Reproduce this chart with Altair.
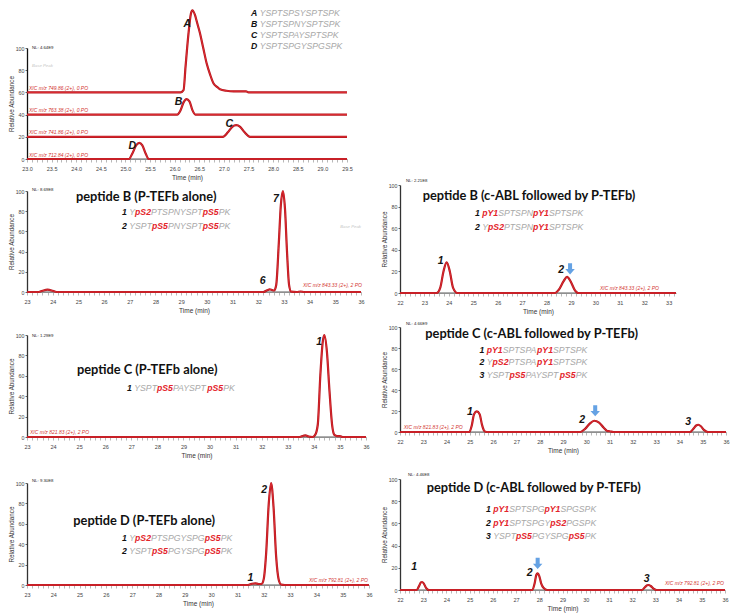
import re
import altair as alt
import pandas as pd

# ---------------- data ----------------
TOP_NAMES = ["A", "B", "C", "D"]
TOP_SEQS = ["YSPTSPSYSPTSPK", "YSPTSPNYSPTSPK", "YSPTSPAYSPTSPK", "YSPTSPGYSPGSPK"]
TOP_XIC = ["XIC m/z 749.86 (2+), 0 PO", "XIC m/z 763.38 (2+), 0 PO",
           "XIC m/z 741.86 (2+), 0 PO", "XIC m/z 712.84 (2+), 0 PO"]
TOP_BASE = [60, 40, 20, 0]
TOP_T = {
    "A": [23.0, 26.12, 26.18, 26.22, 26.28, 26.33, 26.36, 26.41, 26.46, 26.51, 26.58, 26.65,
          26.72, 26.79, 26.86, 26.92, 27.05, 27.2, 27.45, 27.5, 29.5],
    "B": [23.0, 26.05, 26.12, 26.18, 26.24, 26.3, 26.36, 26.42, 29.5],
    "C": [23.0, 26.98, 27.08, 27.17, 27.25, 27.33, 27.42, 27.53, 29.5],
    "D": [23.0, 25.07, 25.14, 25.22, 25.28, 25.34, 25.41, 25.47, 29.5],
}
TOP_V = {
    "A": [0, 0, 2, 23, 53, 71, 74, 70, 62, 54, 40, 26, 16, 8, 5, 2.8, 1.5, 1, 1, 0, 0],
    "B": [0, 0, 4, 11, 14, 12, 4, 0, 0],
    "C": [0, 0, 4, 9, 10.5, 9, 4, 0, 0],
    "D": [0, 0, 5, 12.5, 14.5, 12.5, 5, 0, 0],
}
TOP_SEGS = [(25.05, 25.5)]

PANELS = {
    "BL": dict(
        xdom=[23, 36], nl="NL: 8.69E8", xic="XIC m/z 843.33 (2+), 2 PO",
        title="peptide B (P-TEFb alone)",
        seqs=[("1", "Y[pS2]PTSPNYSPT[pS5]PK"), ("2", "YSPT[pS5]PNYSPT[pS5]PK")],
        t=[23.0, 23.45, 23.6, 23.8, 24.0, 24.15, 32.2, 32.35, 32.45, 32.55, 32.62, 32.7, 32.8,
           32.88, 32.96, 33.04, 33.12, 33.2, 33.28, 33.5, 33.65, 33.8, 36.0],
        v=[0, 0, 1.2, 2.3, 1.2, 0, 0, 1.8, 2.6, 1.8, 1.5, 7, 48, 86, 100, 83, 40, 7, 0.3, 0,
           0.5, 0, 0],
        peaks=[("6", 32.45), ("7", 32.96)], arrow=None,
        segs=[(23.5, 24.1), (32.25, 33.3)], basepeak=True),
    "BR": dict(
        xdom=[22, 33.3], nl="NL: 2.21E8", xic="XIC m/z 843.33 (2+), 2 PO",
        title="peptide B (c-ABL followed by P-TEFb)",
        seqs=[("1", "[pY1]SPTSPN[pY1]SPTSPK"), ("2", "Y[pS2]PTSPN[pY1]SPTSPK")],
        t=[22.0, 23.5, 23.65, 23.78, 23.91, 24.04, 24.17, 24.35, 28.35, 28.5, 28.7, 28.84,
           28.98, 29.15, 29.3, 33.3],
        v=[0, 0, 5, 20, 28.4, 20, 5, 0, 0, 3, 11, 15, 11, 3, 0, 0],
        peaks=[("1", 23.91), ("2", 28.84)], arrow=28.84,
        segs=[(23.5, 24.4), (28.35, 29.3)], basepeak=False),
    "CL": dict(
        xdom=[23, 36], nl="NL: 1.29E9", xic="XIC m/z 821.83 (2+), 2 PO",
        title="peptide C (P-TEFb alone)",
        seqs=[("1", "YSPT[pS5]PAYSPT[pS5]PK")],
        t=[23.0, 33.45, 33.6, 33.68, 33.8, 33.95, 34.05, 34.15, 34.25, 34.34, 34.4, 34.5, 34.6,
           34.7, 34.79, 34.9, 35.0, 35.1, 36.0],
        v=[0, 0, 1.2, 1.6, 0.5, 0, 2, 12, 61, 93, 100, 84, 45, 12, 2, 0.8, 0.8, 0, 0],
        peaks=[("1", 34.4)], arrow=None,
        segs=[(33.45, 33.95), (34.0, 35.1)], basepeak=False),
    "CR": dict(
        xdom=[22, 36], nl="NL: 4.66E9", xic="XIC m/z 821.83 (2+), 2 PO",
        title="peptide C (c-ABL followed by P-TEFb)",
        seqs=[("1", "[pY1]SPTSPA[pY1]SPTSPK"), ("2", "Y[pS2]PTSPA[pY1]SPTSPK"),
              ("3", "YSPT[pS5]PAYSPT[pS5]PK")],
        t=[22.0, 24.98, 25.08, 25.18, 25.3, 25.42, 25.52, 25.62, 25.72, 29.75, 29.95, 30.15,
           30.34, 30.55, 30.75, 30.9, 31.0, 31.17, 34.45, 34.6, 34.72, 34.81, 34.92, 35.05,
           35.22, 36.0],
        v=[0, 0, 6, 17, 19.6, 17, 7, 1, 0, 0, 3, 8, 10.7, 9, 4, 1, 0.7, 0, 0, 3, 6.2, 6.9, 5.5,
           2, 0, 0],
        peaks=[("1", 25.3), ("2", 30.34), ("3", 34.81)], arrow=30.34,
        segs=[(24.98, 25.72), (29.6, 31.2), (34.45, 35.22)], basepeak=False),
    "DL": dict(
        xdom=[23, 36], nl="NL: 9.30E8", xic="XIC m/z 792.81 (2+), 2 PO",
        title="peptide D (P-TEFb alone)",
        seqs=[("1", "Y[pS2]PTSPGYSPG[pS5]PK"), ("2", "YSPT[pS5]PGYSPG[pS5]PK")],
        t=[23.0, 31.4, 31.55, 31.68, 31.8, 31.92, 32.0, 32.09, 32.19, 32.28, 32.37, 32.47,
           32.57, 32.66, 32.8, 36.0],
        v=[0, 0, 1.2, 1.6, 1.0, 1.0, 6, 31, 80, 100, 77, 28, 5, 0.5, 0, 0],
        peaks=[("1", 31.68), ("2", 32.28)], arrow=None,
        segs=[(31.4, 31.95), (31.95, 32.7)], basepeak=False),
    "DR": dict(
        xdom=[22, 36], nl="NL: 4.46E8", xic="XIC m/z 792.81 (2+), 2 PO",
        title="peptide D (c-ABL followed by P-TEFb)",
        seqs=[("1", "[pY1]SPTSPG[pY1]SPGSPK"), ("2", "[pY1]SPTSPGY[pS2]PGSPK"),
              ("3", "YSPT[pS5]PGYSPG[pS5]PK")],
        t=[22.0, 22.72, 22.82, 22.9, 22.95, 23.02, 23.12, 23.25, 27.7, 27.8, 27.87, 27.93,
           28.0, 28.08, 28.18, 28.35, 32.42, 32.55, 32.65, 32.71, 32.8, 32.92, 33.05, 36.0],
        v=[0, 0, 3.5, 6.8, 7.2, 6, 2, 0, 0, 6, 13.5, 15, 12.5, 6, 2, 0, 0, 2.5, 4.2, 4.5, 3.6,
           1.2, 0, 0],
        peaks=[("1", 22.95), ("2", 27.93), ("3", 32.71)], arrow=27.93,
        segs=[(22.72, 23.25), (27.7, 28.35), (32.42, 33.05)], basepeak=False),
}

# ---------------- layout (page pixels) ----------------
PAGE = 8             # page margin
VIEW_W, VIEW_H = 722, 607
Y0 = 48              # top edge of the first plot
COLGAP = 4           # extra horizontal gap the grid puts between columns
LAY = {
    "top": dict(ox=27, w=320, ytop=48, ybot=159, nl=(5, 48), basepk=(32, 66), xicx=2,
                legx=251, legy=[12.5, 23.8, 35.1, 46.4],
                pk_off=[(-5, 14), (-8, 3), (-7, -1), (-7, 3)]),
    "BL": dict(ox=26, w=334, ytop=191, ybot=292, nl=(5, 190), title=(75, 197),
               seqx=121, seqy=[212.3, 225.7], xic=(361, 285, "right"), basepk=(360, 227),
               pk_off=[(-7, -8), (-7, 8)]),
    "BR": dict(ox=399, w=276, ytop=185, ybot=293, nl=(6, 181), title=(421.7, 195.7),
               seqx=474, seqy=[213.3, 226.7], xic=(658, 287.7, "right"),
               pk_off=[(-6, -1), (-6, -7)], arrow_off=(3, -8)),
    "CL": dict(ox=26, w=339, ytop=335, ybot=437, nl=(5, 336), title=(76, 370),
               seqx=126, seqy=[387.7], xic=(29, 432.3, "left"),
               pk_off=[(-5, 7)]),
    "CR": dict(ox=398, w=326, ytop=327, ybot=432, nl=(6, 324), title=(423.3, 334.3),
               seqx=477.5, seqy=[350, 362.3, 375], xic=(401.7, 427, "left"),
               pk_off=[(-7, 1), (-12, -1), (-10, -3)], arrow_off=(1, -10)),
    "DL": dict(ox=31, w=342, ytop=483, ybot=585, nl=(5, 481), title=(77.3, 520.7),
               seqx=126, seqy=[538.3, 551], xic=(372, 580, "right"),
               pk_off=[(-5, -5), (-7, 7)]),
    "DR": dict(ox=395, w=325, ytop=479, ybot=590, nl=(8, 475), title=(421.7, 488.3),
               seqx=481, seqy=[509.3, 522.7, 535.7], xic=(719, 582.7, "right"),
               pk_off=[(-8, -15), (-8, 0), (-2, -6)], arrow_off=(0, -10)),
}
ROWS = [["top"], ["BL", "BR"], ["CL", "CR"], ["DL", "DR"]]
for row in ROWS:
    rt = min(LAY[k]["ytop"] for k in row)
    rb = max(LAY[k]["ybot"] for k in row)
    for k in row:
        LAY[k]["oy"] = rt
        LAY[k]["h"] = rb - rt

LEFT = ["top", "BL", "CL", "DL"]
GX = min(LAY[k]["ox"] for k in LEFT) - 1 - COLGAP   # x of the grid origin on the page

# ---------------- styles ----------------
FONT = "Liberation Sans"
TITLE_FONT = "Lato"
SEQ_SIZE = 8.7
RED_DARK = "#b3141b"
RED_CORE = "#e8343a"
SEQ_GREY = "#a8a8a8"
SEQ_RED = "#e3242b"
XIC_RED = "#d2322d"
ARROW = "#5d9de3"
ONE = pd.DataFrame({"k": [0]})

W_REG = {'A': 667, 'B': 667, 'C': 722, 'D': 722, 'G': 778, 'K': 667, 'N': 722, 'P': 667,
         'S': 667, 'T': 611, 'Y': 667, 'p': 556, '1': 556, '2': 556, '3': 556, '5': 556, ' ': 278}
W_BOLD = {'A': 722, 'B': 722, 'C': 722, 'D': 722, 'G': 778, 'K': 722, 'N': 722, 'P': 667,
          'S': 667, 'T': 611, 'Y': 667, 'p': 611, '1': 556, '2': 556, '3': 556, '5': 556, ' ': 278}


def tw(s, bold, size):
    tab = W_BOLD if bold else W_REG
    return sum(tab.get(c, 600) for c in s) / 1000.0 * size


def T(x, y, s, size, color, weight="normal", style="normal", font=FONT, align="left",
      baseline="middle"):
    return alt.Chart(ONE).mark_text(text=s, align=align, baseline=baseline, font=font,
                                    fontSize=size, fontWeight=weight, fontStyle=style,
                                    color=color).encode(x=alt.value(x), y=alt.value(y))


def seq_line(x, y, num, markup, size=SEQ_SIZE, numcolor="#111111"):
    out = [T(x, y, num, size, numcolor, "bold", "italic")]
    cx = x + tw(num + " ", True, size)
    for part in re.split(r"(\[[^\]]+\])", markup):
        if not part:
            continue
        if part.startswith("["):
            s = part[1:-1]
            out.append(T(cx, y, s, size, SEQ_RED, "bold", "italic"))
            cx += tw(s, True, size)
        else:
            out.append(T(cx, y, part, size, SEQ_GREY, "normal", "italic"))
            cx += tw(part, False, size)
    return out


def encodings(L, xdom, step, lab_expr, ydomcolor="#333"):
    n = int(round((xdom[1] - xdom[0]) / step + 1e-6))
    vals = [round(xdom[0] + step * i, 2) for i in range(n + 1)]
    xaxis = alt.Axis(values=vals, tickCount=1000, labelExpr=lab_expr, labelOverlap=False,
                     labelFlush=False, title="Time (min)", titleFont=FONT, titleFontSize=6.5,
                     titleFontWeight="normal", titleColor="#333", titlePadding=3,
                     labelFont=FONT, labelFontSize=5.5, labelColor="#444", labelPadding=4,
                     tickSize=3, tickColor="#999", tickWidth=0.7, domainColor="#999",
                     domainWidth=1, grid=False, offset=L["ybot"] - (L["oy"] + L["h"]))
    yaxis = alt.Axis(values=[0, 20, 40, 60, 80, 100], tickCount=1000, format="d",
                     labelOverlap=False, title="Relative Abundance", titleFont=FONT,
                     titleFontSize=6.3, titleFontWeight="normal", titleColor="#333",
                     titlePadding=1, labelFont=FONT, labelFontSize=5.3, labelColor="#444",
                     labelPadding=1, tickSize=2, tickColor="#666", domainColor=ydomcolor,
                     domainWidth=1.3, grid=False)
    xs = alt.Scale(domain=xdom, nice=False, zero=False)
    ys = alt.Scale(domain=[0, 100], nice=False, zero=False,
                   range=[L["ybot"] - L["oy"], L["ytop"] - L["oy"]])
    X = alt.X("t:Q", scale=xs, axis=xaxis, title="Time (min)")
    Y = alt.Y("v:Q", scale=ys, axis=yaxis, title="Relative Abundance")
    return X, Y


def trace_layers(df, segdf, X, Y):
    seg = alt.Chart(segdf).mark_rule(color="#8c8c8c", strokeWidth=1.4).encode(
        x=X, x2="t2:Q", y=Y)
    outer = alt.Chart(df).mark_line(color=RED_DARK, strokeWidth=2.2,
                                    interpolate="monotone").encode(x=X, y=Y, detail="trace:N")
    inner = alt.Chart(df).mark_line(color=RED_CORE, strokeWidth=0.8,
                                    interpolate="monotone").encode(x=X, y=Y, detail="trace:N")
    return [seg, outer, inner]


def peak_label(lab, t, v, dx, dy):
    return alt.Chart(ONE).mark_text(text=lab, dx=dx, dy=dy, font=FONT, fontSize=10.5,
                                    fontWeight="bold", fontStyle="italic",
                                    color="#151515").encode(x=alt.datum(t), y=alt.datum(v))


ARROW_PATH = "M-0.36,-1 L0.36,-1 L0.36,0.05 L0.85,0.05 L0,1 L-0.85,0.05 L-0.36,0.05 Z"


def arrow(t, v, dx, dy):
    return alt.Chart(ONE).mark_point(shape=ARROW_PATH, size=125, filled=True, color=ARROW,
                                     opacity=0.95, xOffset=dx, yOffset=dy).encode(
        x=alt.datum(t), y=alt.datum(v))


# ---------------- top panel ----------------
def top_panel():
    L = LAY["top"]
    ox, oy = L["ox"], L["oy"]
    rows, segs = [], []
    for name, base in zip(TOP_NAMES, TOP_BASE):
        for t, v in zip(TOP_T[name], TOP_V[name]):
            rows.append({"t": t, "v": v + base, "trace": name})
    for a, b in TOP_SEGS:
        segs.append({"t": a, "t2": b, "v": 0})
    X, Y = encodings(L, [23.0, 29.5], 0.1,
                     "abs(datum.value*2 - round(datum.value*2)) < 0.01 ? format(datum.value, '.1f') : ''",
                     ydomcolor="#111")
    layers = trace_layers(pd.DataFrame(rows), pd.DataFrame(segs), X, Y)
    layers.append(T(L["nl"][0], L["nl"][1] - oy, "NL: 4.64E9", 4.3, "#222"))
    layers.append(T(L["basepk"][0] - ox, L["basepk"][1] - oy, "Base Peak", 4.3, "#c4c4c4",
                    style="italic"))
    for name, base, xic, (dx, dy) in zip(TOP_NAMES, TOP_BASE, TOP_XIC, L["pk_off"]):
        layers.append(alt.Chart(ONE).mark_text(text=xic, align="left", baseline="bottom",
                                               dy=-1.5, font=FONT, fontSize=5,
                                               fontStyle="italic", color=XIC_RED).encode(
            x=alt.value(L["xicx"]), y=alt.datum(base)))
        vals = TOP_V[name]
        i = max(range(len(vals)), key=lambda k: vals[k])
        layers.append(peak_label(name, TOP_T[name][i], vals[i] + base, dx, dy))
    for name, seq, ly in zip(TOP_NAMES, TOP_SEQS, L["legy"]):
        layers += seq_line(L["legx"] - ox, ly - oy, name, seq)
    return alt.layer(*layers).properties(width=L["w"], height=L["h"])


# ---------------- chromatogram panels ----------------
def panel(key):
    P, L = PANELS[key], LAY[key]
    ox, oy = L["ox"], L["oy"]
    df = pd.DataFrame({"t": P["t"], "v": P["v"], "trace": key})
    segdf = pd.DataFrame({"t": [a for a, b in P["segs"]], "t2": [b for a, b in P["segs"]],
                          "v": [0] * len(P["segs"])})
    X, Y = encodings(L, P["xdom"], 0.2,
                     "abs(datum.value - round(datum.value)) < 0.01 ? format(datum.value, 'd') : ''")
    layers = trace_layers(df, segdf, X, Y)
    layers.append(T(L["nl"][0], L["nl"][1] - oy, P["nl"], 4.3, "#222"))
    if P["basepeak"]:
        layers.append(T(L["basepk"][0] - ox, L["basepk"][1] - oy, "Base Peak", 4.3, "#c4c4c4",
                        style="italic", align="right"))
    xx, xy, xal = L["xic"]
    layers.append(T(xx - ox, xy - oy, P["xic"], 5, XIC_RED, style="italic", align=xal))
    layers.append(T(L["title"][0] - ox, L["title"][1] - oy, P["title"], 12.8, "#111",
                    "bold", font=TITLE_FONT))
    for (num, mk), sy in zip(P["seqs"], L["seqy"]):
        layers += seq_line(L["seqx"] - ox, sy - oy, num, mk)
    for (lab, tp), (dx, dy) in zip(P["peaks"], L["pk_off"]):
        vp = P["v"][P["t"].index(tp)]
        layers.append(peak_label(lab, tp, vp, dx, dy))
    if P["arrow"] is not None:
        vp = P["v"][P["t"].index(P["arrow"])]
        layers.append(arrow(P["arrow"], vp, *L["arrow_off"]))
    return alt.layer(*layers).properties(width=L["w"], height=L["h"])


def spacer(w, h):
    return alt.Chart(ONE).mark_point(size=0, opacity=0).encode(
        x=alt.value(0), y=alt.value(0)).properties(width=max(w, 1), height=max(h, 1))


def gap(a, b):
    return LAY[b]["oy"] - (LAY[a]["oy"] + LAY[a]["h"])


def lead(k):
    return LAY[k]["ox"] - GX - COLGAP


def mid(l, r):
    return LAY[r]["ox"] - (LAY[l]["ox"] + LAY[l]["w"]) - 2 * COLGAP


def blank_row(h):
    return [spacer(1, h), spacer(1, 1), spacer(1, 1), spacer(1, 1)]


# each row: [left spacer, left panel, middle spacer, right panel]
items = (
    [spacer(lead("top"), 1), top_panel(), spacer(1, 1), spacer(1, 1)]
    + blank_row(gap("top", "BL"))
    + [spacer(lead("BL"), 1), panel("BL"), spacer(mid("BL", "BR"), 1), panel("BR")]
    + blank_row(gap("BL", "CL"))
    + [spacer(lead("CL"), 1), panel("CL"), spacer(mid("CL", "CR"), 1), panel("CR")]
    + blank_row(gap("CL", "DL"))
    + [spacer(lead("DL"), 1), panel("DL"), spacer(mid("DL", "DR"), 1), panel("DR")]
)

pad = {"left": GX - PAGE, "top": Y0 - PAGE,
       "right": VIEW_W - (GX - PAGE), "bottom": VIEW_H - (Y0 - PAGE)}

chart = alt.ConcatChart(concat=items, columns=4, align="none", bounds="flush", spacing=0,
                        padding=pad, autosize=alt.AutoSizeParams(type="none"),
                        background="white").configure_view(stroke=None)

chart.save("out.html", embed_options={"renderer": "svg", "actions": False})
